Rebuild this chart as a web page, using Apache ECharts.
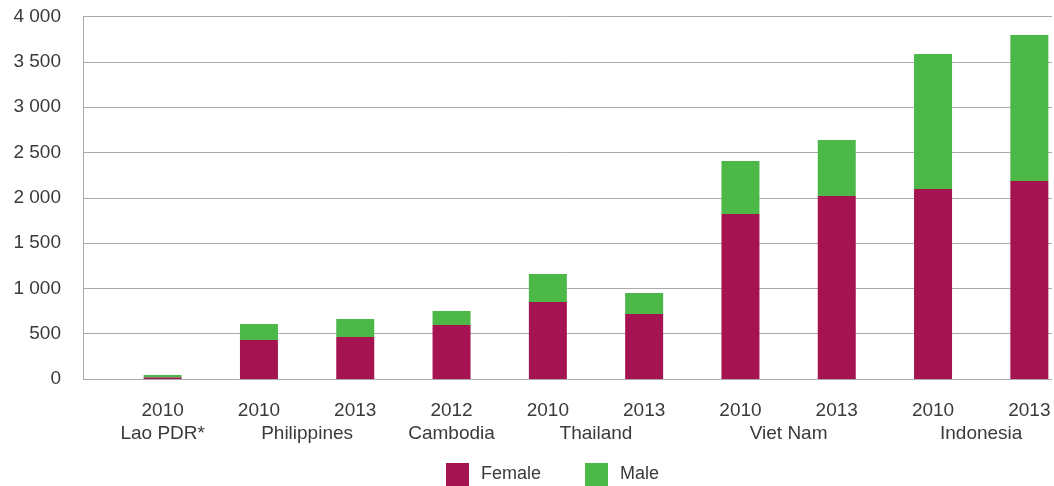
<!DOCTYPE html>
<html>
<head>
<meta charset="utf-8">
<script src="https://cdn.jsdelivr.net/npm/echarts@6/dist/echarts.min.js"></script>
<style>
  html, body { margin:0; padding:0; background:#fff; overflow:hidden; }
  /* a bit wider than the window so the last bar slot can run past the frame */
  #chart { width:1090px; height:486px; }
</style>
</head>
<body>
<div id="chart"></div>
<script>
// bar labels (year) and group labels (country)
const years = ['2010', '2010', '2013', '2012', '2010', '2013', '2010', '2013', '2010', '2013']
const countries = ['', 'Lao PDR*', '', '', 'Philippines', '', '', 'Cambodia', '', '', 'Thailand',
  '', '', '', 'Viet Nam', '', '', '', 'Indonesia', '', '']

// values
const female = [20, 430, 463, 596, 850, 717, 1821, 2020, 2097, 2185]
const male = [25, 177, 199, 154, 309, 232, 585, 618, 1490, 1612]

const yTicks = { min: 0, max: 4000, interval: 500 }

const FEMALE = '#a51451'
const MALE = '#4cb848'
const FONT = 'Liberation Sans'
const TXT = '#3a3a3a'
const GRID = '#aaaaaa'

const chart = echarts.init(document.getElementById('chart'))

// thousands with a space: 4000 -> "4 000"
function fmt(v) {
  return String(v).replace(/\B(?=(\d{3})+(?!\d))/g, ' ')
}

chart.setOption({
  animation: false,
  textStyle: { fontFamily: FONT },
  legend: {
    data: ['Female', 'Male'],
    left: 441, top: 458,
    itemWidth: 23, itemHeight: 23, itemGap: 44,
    icon: 'rect',
    textStyle: { fontSize: 18, color: TXT, padding: [0, 0, 0, 7] }
  },
  grid: [
    // gridlines + y labels
    { left: 83, width: 969, top: 16.6, bottom: 107 },
    // bars
    { left: 114.5, width: 963, top: 16.6, bottom: 107 }
  ],
  xAxis: [
    { gridIndex: 0, type: 'value', show: false },
    {
      gridIndex: 1, type: 'category', data: years,
      axisLine: { show: false }, axisTick: { show: false },
      axisLabel: { interval: 0, margin: 22, fontSize: 19, color: TXT }
    },
    {
      gridIndex: 1, type: 'category', data: countries, boundaryGap: false,
      position: 'bottom', offset: 23,
      axisLine: { show: false }, axisTick: { show: false },
      axisLabel: { interval: 0, margin: 22, fontSize: 19, color: TXT }
    }
  ],
  yAxis: [
    {
      gridIndex: 0, type: 'value', min: yTicks.min, max: yTicks.max, interval: yTicks.interval,
      axisLine: { show: true, lineStyle: { color: GRID } },
      axisTick: { show: false },
      axisLabel: { margin: 22, fontSize: 19, color: TXT, formatter: fmt },
      splitLine: { lineStyle: { color: GRID, width: 1 } }
    },
    {
      gridIndex: 1, type: 'value', min: yTicks.min, max: yTicks.max, interval: yTicks.interval,
      show: false, splitLine: { show: false }
    }
  ],
  series: [
    {
      name: 'Female', type: 'bar', stack: 'total', xAxisIndex: 1, yAxisIndex: 1,
      data: female, barWidth: 38, itemStyle: { color: FEMALE }
    },
    {
      name: 'Male', type: 'bar', stack: 'total', xAxisIndex: 1, yAxisIndex: 1,
      data: male, barWidth: 38, itemStyle: { color: MALE }
    }
  ]
})
</script>
</body>
</html>
